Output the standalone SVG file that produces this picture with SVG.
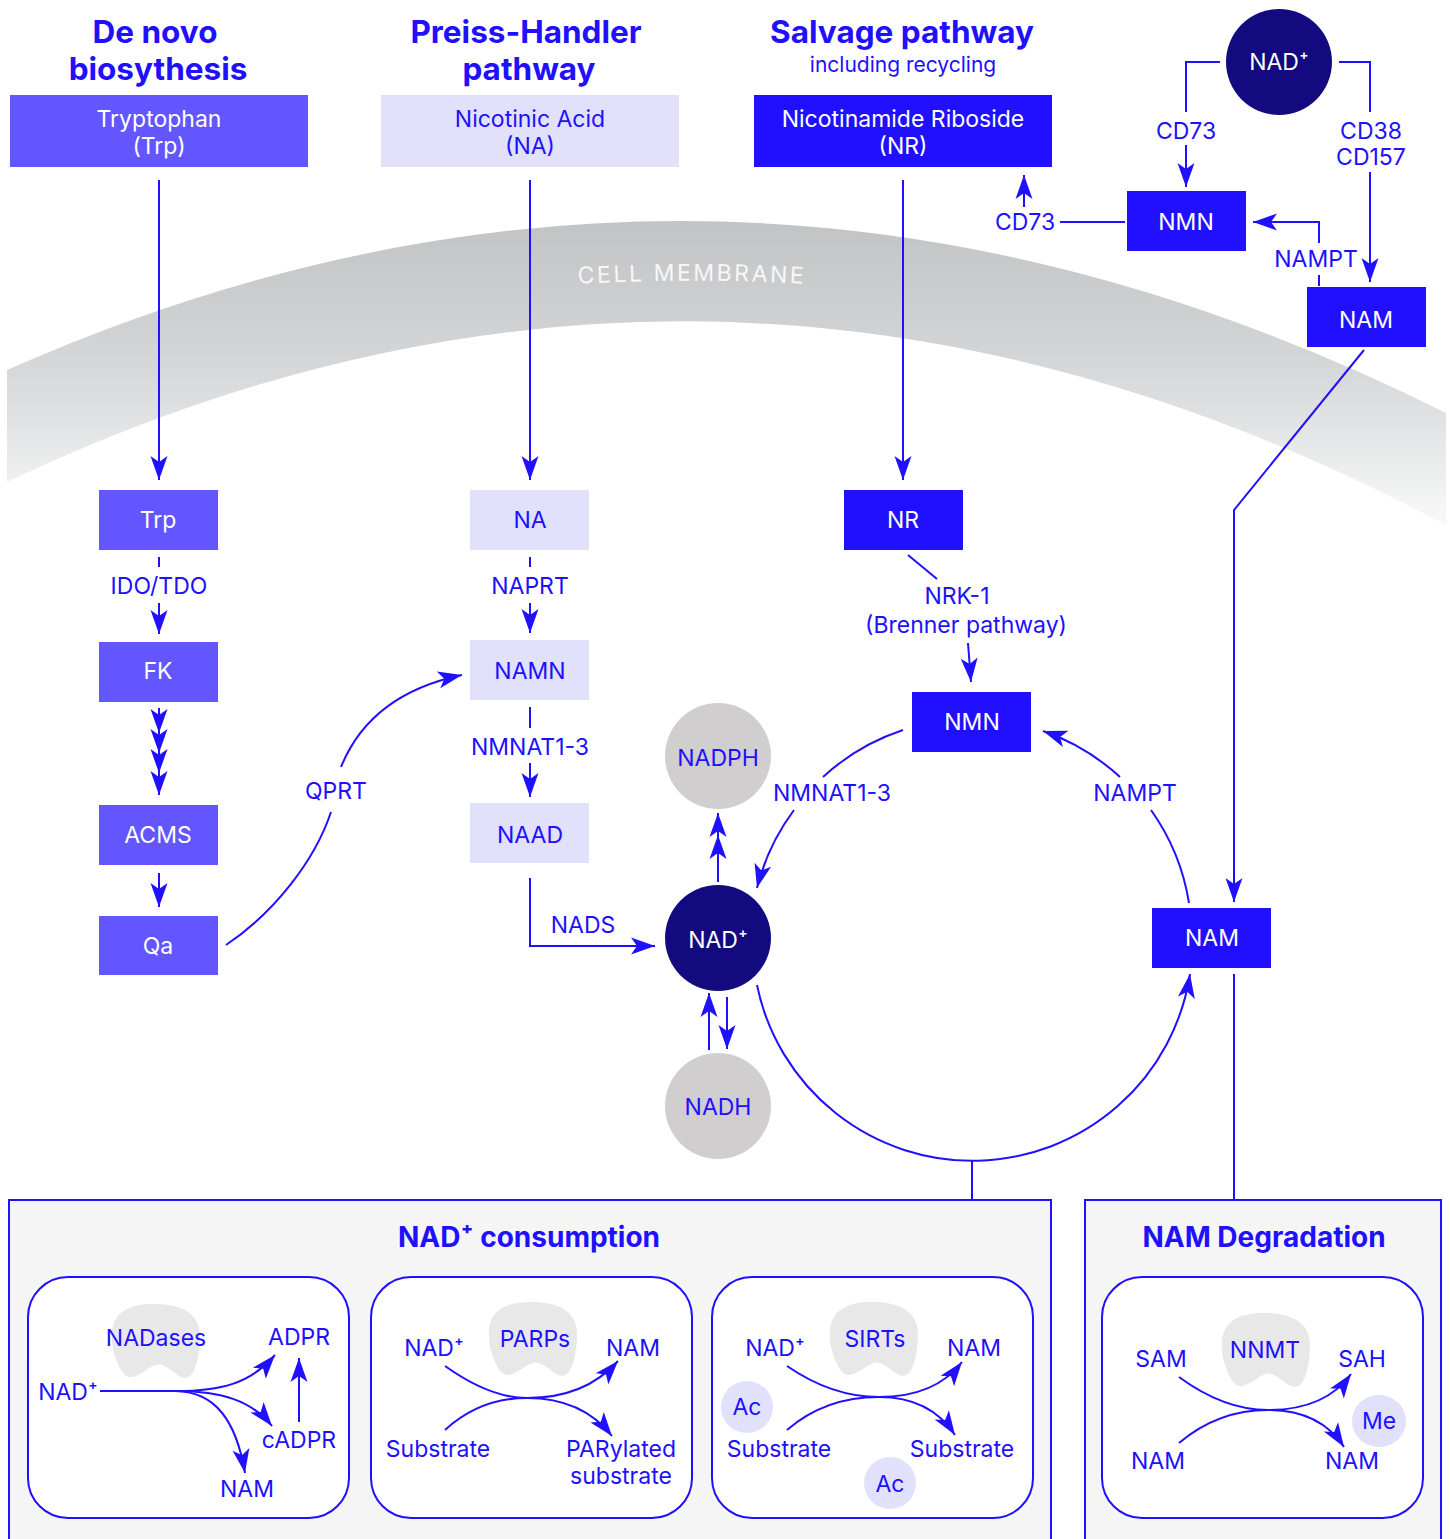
<svg xmlns="http://www.w3.org/2000/svg" width="1450" height="1539" viewBox="0 0 1450 1539">
<defs>
<style>
.t{font-family:Inter,"Liberation Sans",sans-serif;font-size:23px;text-anchor:middle;fill:#2010ff}
.w{fill:#ffffff}
.h{font-weight:700;font-size:31.5px}
.h2{font-weight:700;font-size:28px}
.ln{stroke:#2010ff;stroke-width:2;fill:none}
.a{marker-end:url(#ah)}
.dark{fill:#2010ff}
.mid{fill:#6356ff}
.light{fill:#e1e1fc}
.grey{fill:#d0cecf}
.navy{fill:#130a80}
.panel{fill:#f5f5f5;stroke:#2010ff;stroke-width:2}
.card{fill:#ffffff;stroke:#2010ff;stroke-width:2}
.blob{fill:#e8e8e8}
</style>
<marker id="ah" viewBox="-25 -10 27 20" refX="0" refY="0" markerWidth="27" markerHeight="20" markerUnits="userSpaceOnUse" orient="auto">
<path d="M0,0 L-24,-8.5 L-18,0 L-24,8.5 Z" fill="#2010ff"/>
</marker>
<linearGradient id="mem" x1="0" y1="220" x2="0" y2="525" gradientUnits="userSpaceOnUse">
<stop offset="0" stop-color="#c1c3c4"/>
<stop offset="0.45" stop-color="#d3d5d6"/>
<stop offset="1" stop-color="#f9f9f9"/>
</linearGradient>
<path id="blobshape" d="M-44,-2 C-46,-30 -25,-37 -2,-37 C25,-37 44,-28 44,-5 C44,12 40,30 34,35 C30,38 25,37 20,33 C12,27 6,22 0,24 C-8,26 -16,35 -24,36 C-32,37 -36,28 -40,18 C-43,10 -44,4 -44,-2 Z"/>
<path id="memtext" d="M560,285 Q692,276.4 824,285"/>
</defs>
<rect width="1450" height="1539" fill="#ffffff"/>

<g id="membrane">
<path d="M7,370 Q725.5,52 1446,413 L1446,525 Q725.5,140.5 7,482 Z" fill="url(#mem)"/>
<text class="t" style="fill:#f7f7f7;letter-spacing:2.5px;font-size:23px"><textPath href="#memtext" startOffset="50%">CELL MEMBRANE</textPath></text>
</g>

<g id="headers">
<text class="t h" x="155" y="43">De novo</text>
<text class="t h" x="158" y="80">biosythesis</text>
<text class="t h" x="526" y="43">Preiss-Handler</text>
<text class="t h" x="529" y="80">pathway</text>
<text class="t h" x="902" y="43">Salvage pathway</text>
<text class="t" x="903" y="72" style="font-size:21px">including recycling</text>
</g>

<g id="connectors">
<path class="ln a" d="M159,180 V480"/>
<path class="ln a" d="M530,180 V480"/>
<path class="ln a" d="M903,180 V480"/>
<path class="ln" d="M159,557 V567"/>
<path class="ln a" d="M159,603 V634"/>
<path class="ln a" d="M159,708 V733"/>
<path class="ln a" d="M159,733 V753"/>
<path class="ln a" d="M159,753 V773"/>
<path class="ln a" d="M159,773 V795"/>
<path class="ln a" d="M159,873 V907"/>
<path class="ln" d="M226,945 C275,912 315,860 331,812"/>
<path class="ln a" d="M341,767 C360,720 400,688 462,675"/>
<path class="ln" d="M530,557 V567"/>
<path class="ln a" d="M530,603 V633"/>
<path class="ln" d="M530,707 V728"/>
<path class="ln a" d="M530,763 V797"/>
<path class="ln a" d="M530,878 V946 H655"/>
<path class="ln a" d="M718,882 V835"/>
<path class="ln a" d="M718,835 V813"/>
<path class="ln a" d="M709,1050 V993"/>
<path class="ln a" d="M727,997 V1049"/>
<path class="ln" d="M908,555 L937,579"/>
<path class="ln a" d="M968,643 L971,682"/>
<path class="ln" d="M903,730 A220,220 0 0 0 823,777"/>
<path class="ln a" d="M794,810 A220,220 0 0 0 757,888"/>
<path class="ln" d="M1189,903 A220,220 0 0 0 1151,810"/>
<path class="ln a" d="M1120,777 A220,220 0 0 0 1043,731"/>
<path class="ln a" d="M757,985 A220,220 0 0 0 1190,974"/>
<path class="ln" d="M972,1160 V1200"/>
<path class="ln a" d="M1364,350 L1234,510 V902"/>
<path class="ln" d="M1234,974 V1200"/>
<path class="ln" d="M1220,62 H1186 V112"/>
<path class="ln a" d="M1186,145 V187"/>
<path class="ln" d="M1339,62 H1370 V112"/>
<path class="ln a" d="M1370,172 V282"/>
<path class="ln" d="M1125,222 H1060"/>
<path class="ln a" d="M1024,207 V175"/>
<path class="ln" d="M1319,286 V275"/>
<path class="ln a" d="M1319,243 V222 H1253"/>
</g>

<g id="labels">
<text class="t" x="159" y="594">IDO/TDO</text>
<text class="t" x="530" y="594">NAPRT</text>
<text class="t" x="530" y="755">NMNAT1-3</text>
<text class="t" x="336" y="799">QPRT</text>
<text class="t" x="583" y="933">NADS</text>
<text class="t" x="957" y="604">NRK-1</text>
<text class="t" x="966" y="633">(Brenner pathway)</text>
<text class="t" x="832" y="801">NMNAT1-3</text>
<text class="t" x="1135" y="801">NAMPT</text>
<text class="t" x="1186" y="139">CD73</text>
<text class="t" x="1371" y="139">CD38</text>
<text class="t" x="1371" y="165">CD157</text>
<text class="t" x="1025" y="230">CD73</text>
<text class="t" x="1316" y="267">NAMPT</text>
</g>

<g id="node-tryptophan"><rect class="mid" x="10" y="95" width="298" height="72"/><text class="t w" x="159" y="127">Tryptophan</text><text class="t w" x="159" y="154">(Trp)</text></g>
<g id="node-nicotinic-acid"><rect class="light" x="381" y="95" width="298" height="72"/><text class="t" x="530" y="127">Nicotinic Acid</text><text class="t" x="530" y="154">(NA)</text></g>
<g id="node-nr-top"><rect class="dark" x="754" y="95" width="298" height="72"/><text class="t w" x="903" y="127">Nicotinamide Riboside</text><text class="t w" x="903" y="154">(NR)</text></g>

<g id="node-nad-top"><circle class="navy" cx="1279" cy="62" r="53"/><text class="t w" x="1279" y="70">NAD⁺</text></g>
<g id="node-nmn-top"><rect class="dark" x="1127" y="191" width="119" height="60"/><text class="t w" x="1186" y="230">NMN</text></g>
<g id="node-nam-top"><rect class="dark" x="1307" y="287" width="119" height="60"/><text class="t w" x="1366" y="328">NAM</text></g>

<g id="node-trp"><rect class="mid" x="99" y="490" width="119" height="60"/><text class="t w" x="158" y="528">Trp</text></g>
<g id="node-fk"><rect class="mid" x="99" y="642" width="119" height="60"/><text class="t w" x="158" y="679">FK</text></g>
<g id="node-acms"><rect class="mid" x="99" y="805" width="119" height="60"/><text class="t w" x="158" y="843">ACMS</text></g>
<g id="node-qa"><rect class="mid" x="99" y="916" width="119" height="59"/><text class="t w" x="158" y="954">Qa</text></g>

<g id="node-na"><rect class="light" x="470" y="490" width="119" height="60"/><text class="t" x="530" y="528">NA</text></g>
<g id="node-namn"><rect class="light" x="470" y="640" width="119" height="60"/><text class="t" x="530" y="679">NAMN</text></g>
<g id="node-naad"><rect class="light" x="470" y="803" width="119" height="60"/><text class="t" x="530" y="843">NAAD</text></g>

<g id="node-nr"><rect class="dark" x="844" y="490" width="119" height="60"/><text class="t w" x="903" y="528">NR</text></g>
<g id="node-nmn"><rect class="dark" x="912" y="692" width="119" height="60"/><text class="t w" x="972" y="730">NMN</text></g>
<g id="node-nam"><rect class="dark" x="1152" y="908" width="119" height="60"/><text class="t w" x="1212" y="946">NAM</text></g>

<g id="node-nadph"><circle class="grey" cx="718" cy="756" r="53"/><text class="t" x="718" y="766">NADPH</text></g>
<g id="node-nad"><circle class="navy" cx="718" cy="938" r="53"/><text class="t w" x="718" y="948">NAD⁺</text></g>
<g id="node-nadh"><circle class="grey" cx="718" cy="1106" r="53"/><text class="t" x="718" y="1115">NADH</text></g>

<g id="panel-consumption">
<rect class="panel" x="9" y="1200" width="1042" height="360"/>
<text class="t h2" x="529" y="1247">NAD⁺ consumption</text>
</g>
<g id="panel-degradation">
<rect class="panel" x="1085" y="1200" width="356" height="360"/>
<text class="t h2" x="1264" y="1247">NAM Degradation</text>
</g>

<g id="card-nadases">
<rect class="card" x="28" y="1277" width="321" height="241" rx="40"/>
<use href="#blobshape" class="blob" transform="translate(156,1341)"/>
<text class="t" x="156" y="1346">NADases</text>
<text class="t" x="299" y="1345">ADPR</text>
<text class="t" x="68" y="1400">NAD⁺</text>
<text class="t" x="299" y="1448">cADPR</text>
<text class="t" x="247" y="1497">NAM</text>
<path class="ln" d="M100,1391 H176"/>
<path class="ln a" d="M176,1391 C220,1391 250,1384 275,1355"/>
<path class="ln a" d="M176,1391 C222,1391 252,1401 272,1426"/>
<path class="ln a" d="M176,1391 C215,1392 236,1420 245,1473"/>
<path class="ln a" d="M299,1422 V1358"/>
</g>

<g id="card-parps">
<rect class="card" x="371" y="1277" width="321" height="241" rx="40"/>
<use href="#blobshape" class="blob" transform="translate(533,1339)"/>
<text class="t" x="535" y="1347">PARPs</text>
<text class="t" x="434" y="1356">NAD⁺</text>
<text class="t" x="633" y="1356">NAM</text>
<text class="t" x="438" y="1457">Substrate</text>
<text class="t" x="621" y="1457">PARylated</text>
<text class="t" x="621" y="1484">substrate</text>
<path class="ln a" d="M445,1366 Q490,1398 527,1398 Q585,1398 618,1361"/>
<path class="ln a" d="M445,1430 Q480,1398 527,1398 Q582,1398 612,1436"/>
</g>

<g id="card-sirts">
<rect class="card" x="712" y="1277" width="321" height="241" rx="40"/>
<use href="#blobshape" class="blob" transform="translate(874,1339)"/>
<ellipse class="light" cx="747" cy="1407" rx="26" ry="26"/>
<ellipse class="light" cx="890" cy="1483" rx="26" ry="26"/>
<text class="t" x="875" y="1347">SIRTs</text>
<text class="t" x="775" y="1356">NAD⁺</text>
<text class="t" x="974" y="1356">NAM</text>
<text class="t" x="747" y="1415">Ac</text>
<text class="t" x="779" y="1457">Substrate</text>
<text class="t" x="962" y="1457">Substrate</text>
<text class="t" x="890" y="1492">Ac</text>
<path class="ln a" d="M787,1366 Q832,1397 879,1397 Q935,1397 962,1362"/>
<path class="ln a" d="M787,1430 Q825,1397 879,1397 Q930,1397 955,1435"/>
</g>

<g id="card-nnmt">
<rect class="card" x="1102" y="1277" width="321" height="241" rx="40"/>
<use href="#blobshape" class="blob" transform="translate(1266,1350)"/>
<ellipse class="light" cx="1379" cy="1421" rx="27" ry="26"/>
<text class="t" x="1265" y="1358">NNMT</text>
<text class="t" x="1161" y="1367">SAM</text>
<text class="t" x="1362" y="1367">SAH</text>
<text class="t" x="1379" y="1429">Me</text>
<text class="t" x="1158" y="1469">NAM</text>
<text class="t" x="1352" y="1469">NAM</text>
<path class="ln a" d="M1179,1377 Q1224,1410 1268,1410 Q1325,1410 1351,1374"/>
<path class="ln a" d="M1179,1443 Q1218,1410 1268,1410 Q1320,1410 1344,1447"/>
</g>
</svg>
